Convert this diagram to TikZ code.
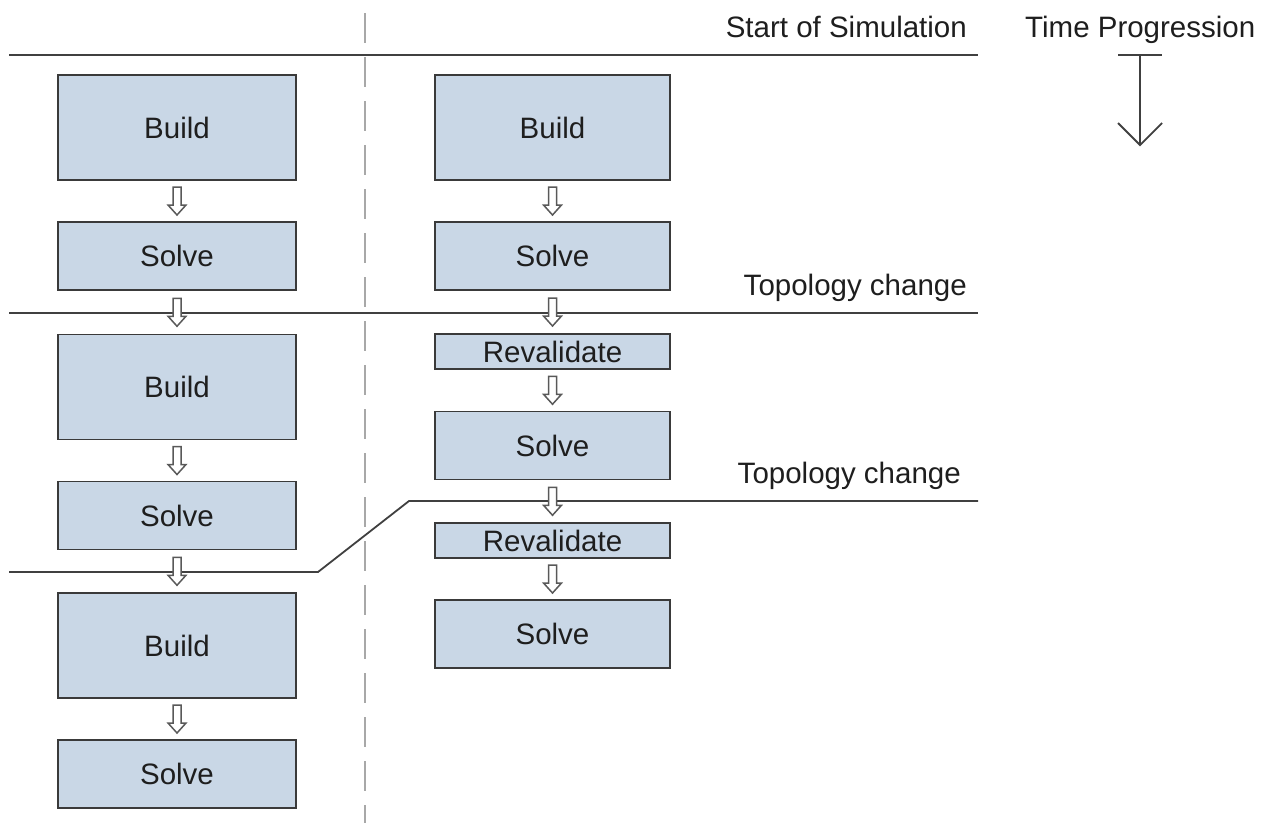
\documentclass[tikz,border=0pt]{standalone}
\usepackage{fontspec}
\setmainfont{Liberation Sans}
\usetikzlibrary{calc}
\definecolor{boxfill}{HTML}{C9D7E6}
\definecolor{boxline}{HTML}{3A3A3A}
\definecolor{txt}{HTML}{1E1E1E}
\definecolor{rule}{HTML}{404040}
\definecolor{divider}{HTML}{A8A8A8}
\tikzset{
  stage/.style={draw=boxline, line width=1.8pt, fill=boxfill, inner sep=0pt,
    text=txt, font=\fontsize{29.5}{35}\selectfont},
  bigbox/.style={stage, minimum height=105pt},
  smallbox/.style={stage, minimum height=68pt},
  thinbox/.style={stage, minimum height=35pt},
  leftcol/.style={minimum width=238pt},
  rightcol/.style={minimum width=235pt},
  caption/.style={inner sep=0pt, text=txt, font=\fontsize{29.5}{35}\selectfont},
  timeline/.style={draw=rule, line width=1.8pt},
  harrow/.pic={
    \draw[fill=white, draw=black!65, line width=1.5pt, line join=miter]
      (-4,-14) -- (4,-14) -- (4,4) -- (9,4) -- (0,14) -- (-9,4) -- (-4,4) -- cycle;
  }
}
\begin{document}
\begin{tikzpicture}[x=1pt, y=-1pt]
\useasboundingbox (0,0) rectangle (1265,823);

% column divider
\draw[divider, line width=1.8pt, dash pattern=on 30pt off 14pt, dash phase=-13pt]
  (365,0) -- (365,823);

% phase boundaries
\draw[timeline] (9,55) -- (978,55);
\draw[timeline] (9,313) -- (978,313);
\draw[timeline] (9,572) -- (318,572) -- (409,501) -- (978,501);

\node[caption, anchor=base east] (start) at (967,37) {Start of Simulation};
\node[caption, anchor=base east] (topo1) at (967,295) {Topology change};
\node[caption, anchor=base east] (topo2) at (961,483) {Topology change};
\node[caption, anchor=base west] (timelbl) at (1025,37) {Time Progression};

% time arrow
\draw[draw=rule, line width=1.8pt] (1118,55) -- (1162,55);
\draw[draw=rule, line width=1.8pt] (1140,55) -- (1140,144);
\draw[draw=rule, line width=1.8pt, line join=miter] (1118,123) -- (1140,145) -- (1162,123);

% left column: full rebuild after every change
\node[bigbox, leftcol]   (lb1) at (177,127.5) {Build};
\node[smallbox, leftcol] (ls1) at (177,256) {Solve};
\node[bigbox, leftcol]   (lb2) at (177,387) {Build};
\node[smallbox, leftcol] (ls2) at (177,515.5) {Solve};
\node[bigbox, leftcol]   (lb3) at (177,645.5) {Build};
\node[smallbox, leftcol] (ls3) at (177,774) {Solve};

% right column: revalidate after every change
\node[bigbox, rightcol]   (rb1) at (552.5,127.5) {Build};
\node[smallbox, rightcol] (rs1) at (552.5,256) {Solve};
\node[thinbox, rightcol]  (rv1) at (552.5,351.5) {Revalidate};
\node[smallbox, rightcol] (rs2) at (552.5,445.5) {Solve};
\node[thinbox, rightcol]  (rv2) at (552.5,540.5) {Revalidate};
\node[smallbox, rightcol] (rs3) at (552.5,634) {Solve};

% step arrows
\pic at ($(lb1.south)!0.5!(ls1.north)$) {harrow};
\pic at ($(ls1.south)!0.5!(lb2.north)$) {harrow};
\pic at ($(lb2.south)!0.5!(ls2.north)$) {harrow};
\pic at ($(ls2.south)!0.5!(lb3.north)$) {harrow};
\pic at ($(lb3.south)!0.5!(ls3.north)$) {harrow};

\pic at ($(rb1.south)!0.5!(rs1.north)$) {harrow};
\pic at ($(rs1.south)!0.5!(rv1.north)$) {harrow};
\pic at ($(rv1.south)!0.5!(rs2.north)$) {harrow};
\pic at ($(rs2.south)!0.5!(rv2.north)$) {harrow};
\pic at ($(rv2.south)!0.5!(rs3.north)$) {harrow};
\end{tikzpicture}
\end{document}
